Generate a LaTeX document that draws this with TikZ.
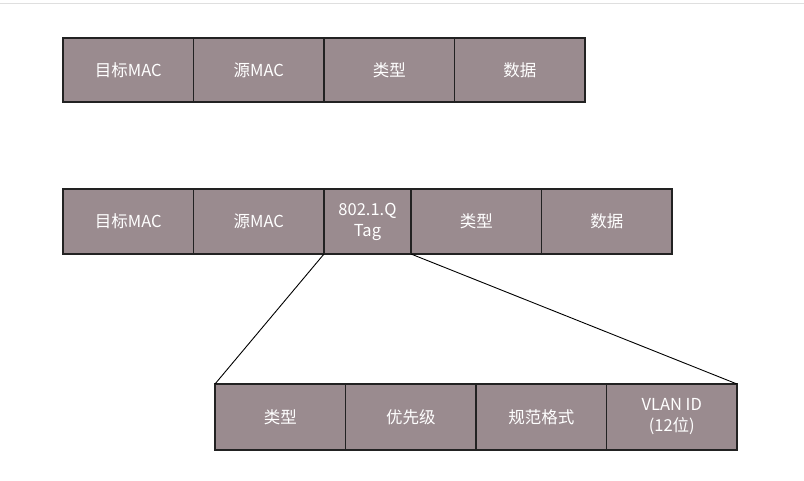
\documentclass[tikz,border=0pt]{standalone}
\usepackage{fontspec}
\setmainfont{Noto Sans CJK SC}
\definecolor{cellfill}{RGB}{154,139,143}
\definecolor{cellline}{RGB}{34,34,34}
\begin{document}
\begin{tikzpicture}[x=1pt,y=-1pt,
  cell/.style={draw=cellline, line width=1.2pt, fill=cellfill, text=white,
    inner sep=0pt, outer sep=0pt, anchor=north west, align=center,
    font=\fontsize{16.5}{21}\selectfont},
  wide/.style={cell, minimum width=130.5pt},
  link/.style={draw=black, line width=0.9pt}]
\useasboundingbox[fill=white] (0,0) rectangle (804,480);
\draw[gray!25, line width=0.8pt] (0,3) -- (804,3);
% row 1
\node[wide, minimum height=64pt] (a1) at (63,38) {目标MAC};
\node[wide, minimum height=64pt] (a2) at (193.5,38) {源MAC};
\node[wide, minimum height=64pt] (a3) at (324,38) {类型};
\node[wide, minimum height=64pt] (a4) at (454.5,38) {数据};
% row 2
\node[wide, minimum height=65pt] (b1) at (63,189) {目标MAC};
\node[wide, minimum height=65pt] (b2) at (193.5,189) {源MAC};
\node[cell, minimum width=87pt, minimum height=65pt] (tag) at (324,189) {802.1.Q\\Tag};
\node[wide, minimum height=65pt] (b4) at (411,189) {类型};
\node[wide, minimum height=65pt] (b5) at (541.5,189) {数据};
% row 3
\node[wide, minimum height=66pt] (c1) at (215,384) {类型};
\node[wide, minimum height=66pt] (c2) at (345.5,384) {优先级};
\node[wide, minimum height=66pt] (c3) at (476,384) {规范格式};
\node[wide, minimum height=66pt] (c4) at (606.5,384) {VLAN ID\\(12位)};
% connectors
\draw[link] (tag.south west) -- (c1.north west);
\draw[link] (tag.south east) -- (c4.north east);
\end{tikzpicture}
\end{document}
